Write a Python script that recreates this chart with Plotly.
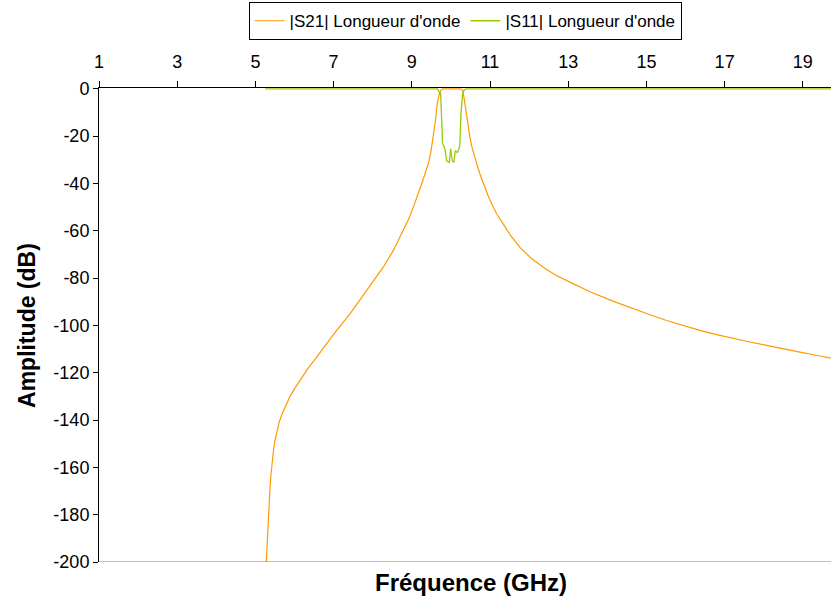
import plotly.graph_objects as go

# |S21| transmission response (frequency in GHz, amplitude in dB)
s21_freq = [5.278, 5.296, 5.321, 5.347, 5.372, 5.398, 5.423, 5.462, 5.500,
            5.551, 5.615, 5.692, 5.781, 5.884, 6.011, 6.139, 6.344, 6.566,
            6.804, 7.078, 7.418, 7.622, 7.845, 8.057, 8.269, 8.525, 8.781,
            8.914, 9.036, 9.144, 9.251, 9.336, 9.420, 9.489, 9.548, 9.604,
            9.650, 9.693, 9.737, 9.783, 10.256, 10.300, 10.333, 10.358,
            10.402, 10.443, 10.486, 10.537, 10.601, 10.665, 10.742, 10.844,
            10.946, 11.041, 11.176, 11.337, 11.534, 11.765, 12.046, 12.360,
            12.685, 13.043, 13.555, 14.109, 14.662, 15.089, 15.516, 15.932,
            16.367, 16.794, 17.218, 17.645, 18.072, 18.489, 18.924, 19.307,
            19.716]
s21_db = [-200.0, -193.0, -184.0, -176.0, -169.0, -163.0, -158.0, -153.0,
          -148.5, -144.5, -140.5, -137.0, -133.5, -130.0, -126.5, -123.2,
          -118.2, -113.4, -108.0, -102.1, -95.1, -90.3, -85.2, -80.3, -75.4,
          -68.4, -59.9, -55.2, -50.1, -45.4, -40.2, -36.0, -31.8, -26.5,
          -20.5, -13.5, -6.5, -2.8, -0.8, 0.0, 0.0, -0.8, -3.5, -6.5, -10.7,
          -15.5, -20.5, -24.5, -28.5, -32.0, -36.0, -40.8, -45.0, -48.6,
          -53.0, -57.1, -62.2, -67.0, -71.5, -75.4, -78.8, -81.7, -85.8,
          -89.5, -93.0, -95.5, -97.9, -100.0, -102.1, -103.9, -105.6, -107.0,
          -108.4, -109.9, -111.3, -112.5, -113.8]

# |S11| reflection response
s11_freq = [5.25, 9.650, 9.737, 9.762, 9.788, 9.847, 9.890, 9.957, 9.993,
            10.034, 10.077, 10.110, 10.161, 10.205, 10.230, 10.256, 10.299,
            10.340, 10.384, 19.720]
s11_db = [0.0, 0.0, -2.2, -10.7, -23.3, -25.4, -30.4, -31.1, -25.4, -30.4,
          -31.1, -26.2, -26.9, -25.4, -23.3, -10.7, -2.2, -0.5, 0.0, 0.0]

x_ticks = [1, 3, 5, 7, 9, 11, 13, 15, 17, 19]
y_ticks = list(range(-200, 1, 20))
y_tick_labels = [str(v) for v in y_ticks]  # plain hyphen minus signs

FONT = "Liberation Sans, Arial, sans-serif"

fig = go.Figure()
fig.add_trace(go.Scatter(x=s21_freq, y=s21_db, mode="lines",
                         name="|S21| Longueur d'onde",
                         line=dict(color="#FF9900", width=1.2)))
fig.add_trace(go.Scatter(x=s11_freq, y=s11_db, mode="lines",
                         name="|S11| Longueur d'onde",
                         line=dict(color="#99CC00", width=1.3)))

fig.update_layout(
    width=831, height=601,
    margin=dict(l=99, r=0, t=88, b=39),
    paper_bgcolor="white", plot_bgcolor="white",
    font=dict(family=FONT, size=17, color="black"),
    showlegend=True,
    legend=dict(orientation="h", x=0.5, xanchor="center",
                y=1.181, yanchor="top",
                bordercolor="black", borderwidth=1,
                font=dict(size=17), bgcolor="white"),
    xaxis=dict(side="top", range=[1, 19.72], tickvals=x_ticks,
               ticks="outside", ticklen=6, tickcolor="black",
               ticklabelstandoff=6,
               showline=True, linecolor="black", linewidth=1,
               showgrid=False, zeroline=False, layer="below traces",
               tickfont=dict(size=18)),
    yaxis=dict(range=[-200, 0.35], tickvals=y_ticks, ticktext=y_tick_labels,
               ticks="outside", ticklen=5, tickcolor="black",
               showline=True, linecolor="black", linewidth=1,
               showgrid=False, zeroline=False,
               tickfont=dict(size=18)),
    shapes=[dict(type="line", xref="paper", yref="y", x0=0, x1=1,
                 y0=-200, y1=-200, line=dict(color="#808080", width=1))],
    annotations=[
        dict(text="<b>Fréquence (GHz)</b>", xref="paper", yref="paper",
             x=0.508, y=-0.0105, xanchor="center", yanchor="top",
             showarrow=False, font=dict(size=24)),
        dict(text="<b>Amplitude (dB)</b>", xref="paper", yref="paper",
             x=-0.0984, y=0.5, xanchor="center", yanchor="middle",
             textangle=-90, showarrow=False, font=dict(size=23)),
    ],
)

fig.write_html("out.html")
